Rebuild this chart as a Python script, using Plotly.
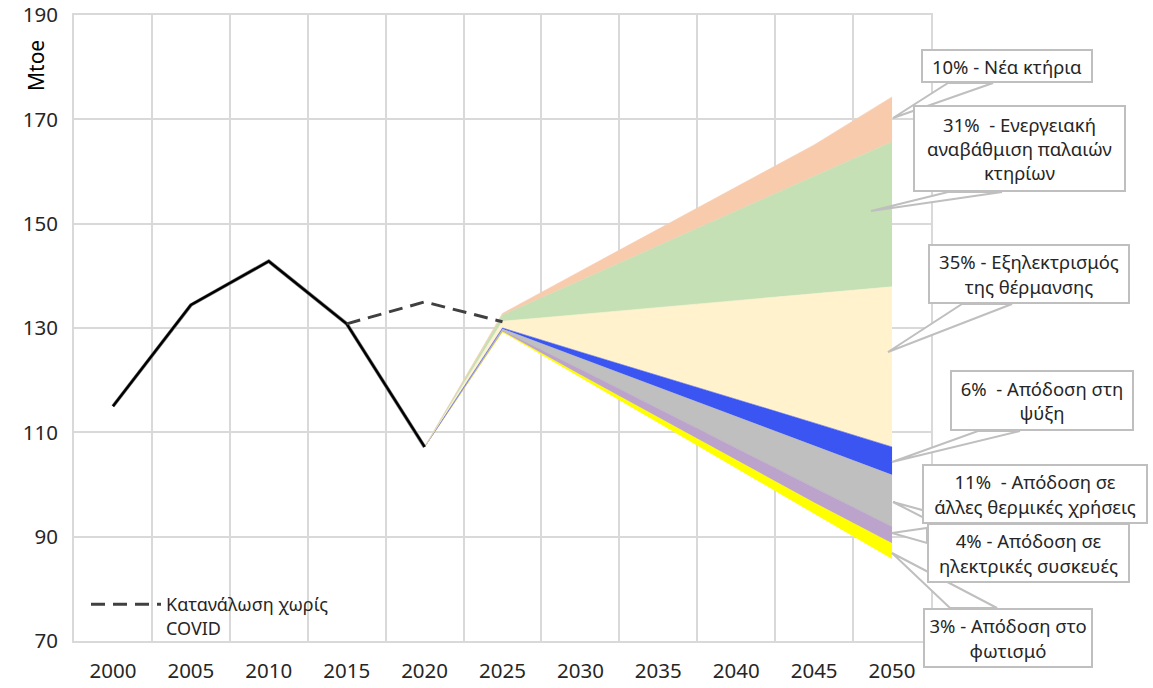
import plotly.graph_objects as go

# ---------------- data ----------------
hist_years = [2000, 2005, 2010, 2015, 2020]
hist_cons = [115.0, 134.4, 142.8, 130.8, 107.2]

nocovid_years = [2015, 2020, 2025]
nocovid_cons = [130.8, 135.0, 131.2]

proj_years = [2020, 2025, 2030, 2035, 2040, 2045, 2050]
base_cons = [107.2, 129.2, 120.5, 111.8, 103.1, 94.4, 85.7]
lighting = [0, 0.1, 0.5, 1.0, 1.5, 2.1, 3.0]
appliances = [0, 0.2, 1.1, 1.7, 2.4, 2.9, 3.2]
other_thermal = [0, 0.3, 2.1, 4.1, 6.0, 8.0, 9.9]
cooling = [0, 0.2, 1.2, 2.3, 3.3, 4.4, 5.4]
heating_elec = [0, 1.3, 7.2, 13.0, 19.0, 24.8, 30.7]
renovation = [0, 1.2, 6.5, 11.9, 17.1, 22.5, 27.8]
new_buildings = [0, 0.3, 1.8, 3.2, 4.6, 6.0, 8.6]

x_ticks = [2000, 2005, 2010, 2015, 2020, 2025, 2030, 2035, 2040, 2045, 2050]
y_ticks = [70, 90, 110, 130, 150, 170, 190]

layer_names = ["3% - Απόδοση στο φωτισμό", "4% - Απόδοση σε ηλεκτρικές συσκευές",
               "11% - Απόδοση σε άλλες θερμικές χρήσεις", "6% - Απόδοση στη ψύξη",
               "35% - Εξηλεκτρισμός της θέρμανσης",
               "31% - Ενεργειακή αναβάθμιση παλαιών κτηρίων", "10% - Νέα κτήρια"]
layer_values = [lighting, appliances, other_thermal, cooling, heating_elec, renovation, new_buildings]
layer_colors = ["#FFFF00", "#BBA3CB", "#BFBFBF", "#3B55F2", "#FFF2CC", "#C5E0B4", "#F8CBAD"]

callout_texts = [
    "10% - Νέα κτήρια",
    "31%  - Ενεργειακή<br>αναβάθμιση παλαιών<br>κτηρίων",
    "35% - Εξηλεκτρισμός<br>της θέρμανσης",
    "6%  - Απόδοση στη<br>ψύξη",
    "11%  - Απόδοση σε<br>άλλες θερμικές χρήσεις",
    "4% - Απόδοση σε<br>ηλεκτρικές συσκευές",
    "3% - Απόδοση στο<br>φωτισμό",
]

# ---------------- layout geometry ----------------
W, H = 1153, 688
L, R, T, B = 74, 222, 15, 47
PW, PH = W - L - R, H - T - B

def px(x):
    return (x - L) / PW

def py(y):
    return (H - B - y) / PH

FONT = "Noto Sans"

fig = go.Figure()

# stacked areas
fig.add_trace(go.Scatter(x=proj_years, y=base_cons, stackgroup="s", mode="lines",
                         line=dict(width=0), fillcolor="rgba(0,0,0,0)",
                         showlegend=False, hoverinfo="skip"))
for name, vals, col in zip(layer_names, layer_values, layer_colors):
    fig.add_trace(go.Scatter(x=proj_years, y=vals, stackgroup="s", mode="lines",
                             line=dict(width=0.6, color=col), fillcolor=col,
                             name=name, showlegend=False))

# historical line
fig.add_trace(go.Scatter(x=hist_years, y=hist_cons, mode="lines",
                         line=dict(color="#7f7f7f", width=3.6),
                         showlegend=False, hoverinfo="skip"))
fig.add_trace(go.Scatter(x=hist_years, y=hist_cons, mode="lines",
                         line=dict(color="#000000", width=2.4),
                         name="Κατανάλωση", showlegend=False))
# no-covid dashed line
fig.add_trace(go.Scatter(x=nocovid_years, y=nocovid_cons, mode="lines",
                         line=dict(color="#404040", width=3, dash="14px,8px"),
                         name="Κατανάλωση χωρίς<br>COVID", showlegend=True))

# callouts: (box x0, y0, x1, y1), wedge points (pixels)
boxes = [
    ((921, 49, 1093, 83), [(948, 83), (993, 83), (893, 118)]),
    ((913, 105, 1126, 192), [(948, 192), (1002, 192), (871, 211)]),
    ((928, 244, 1130, 304), [(962, 304), (1012, 304), (888, 352)]),
    ((950, 370, 1134, 431), [(978, 431), (1020, 431), (892, 462)]),
    ((922, 464, 1148, 524), [(922, 510), (936, 524), (893, 502)]),
    ((927, 523, 1130, 583), [(927, 528), (927, 543), (892, 533)]),
    ((923, 608, 1093, 668), [(950, 608), (997, 608), (892, 553)]),
]
shapes = []
annotations = []
for (bx, wedge), txt in zip(boxes, callout_texts):
    path = "M " + " L ".join(f"{px(a):.5f},{py(b):.5f}" for a, b in wedge) + " Z"
    shapes.append(dict(type="path", xref="paper", yref="paper", path=path,
                       fillcolor="white", line=dict(color="#BFBFBF", width=2)))
    x0, y0, x1, y1 = bx
    annotations.append(dict(xref="paper", yref="paper",
                            x=px((x0 + x1) / 2), y=py((y0 + y1) / 2),
                            xanchor="center", yanchor="middle",
                            text=txt, showarrow=False, align="center",
                            width=x1 - x0 - 4, height=y1 - y0 - 4, borderpad=0,
                            bgcolor="white", bordercolor="#BFBFBF", borderwidth=2,
                            font=dict(family=FONT, size=18.5, color="#262626")))

annotations.append(dict(xref="paper", yref="paper", x=px(36), y=py(66),
                        xanchor="center", yanchor="middle", text="Mtoe",
                        textangle=-90, showarrow=False,
                        font=dict(family=FONT, size=21, color="#000000")))

fig.update_layout(
    width=W, height=H,
    margin=dict(l=L, r=R, t=T, b=B, pad=0, autoexpand=False),
    plot_bgcolor="white", paper_bgcolor="white",
    font=dict(family=FONT, size=19, color="#262626"),
    shapes=shapes, annotations=annotations,
    legend=dict(x=px(86), y=py(586), xanchor="left", yanchor="top",
                bgcolor="rgba(0,0,0,0)", itemwidth=70, tracegroupgap=0, valign="top",
                font=dict(family=FONT, size=18, color="#262626")),
    xaxis=dict(range=[1997.5, 2052.5], tickvals=x_ticks, ticktext=[str(v) for v in x_ticks],
               showgrid=False, zeroline=False, showline=True, mirror=True, automargin=False,
               linecolor="#D9D9D9", linewidth=2, ticks="", ticklabelstandoff=10,
               tickfont=dict(family=FONT, size=20.5, color="#262626"),
               minor=dict(tick0=1997.5, dtick=5, showgrid=True,
                          gridcolor="#D9D9D9", gridwidth=2, ticks="")),
    yaxis=dict(range=[70, 190], tickvals=y_ticks, showgrid=True, gridcolor="#D9D9D9",
               gridwidth=2, zeroline=False, showline=True, mirror=True, automargin=False,
               linecolor="#D9D9D9", linewidth=2, ticks="", ticklabelstandoff=10,
               tickfont=dict(family=FONT, size=20.5, color="#262626")),
)

fig.write_html("out.html")
